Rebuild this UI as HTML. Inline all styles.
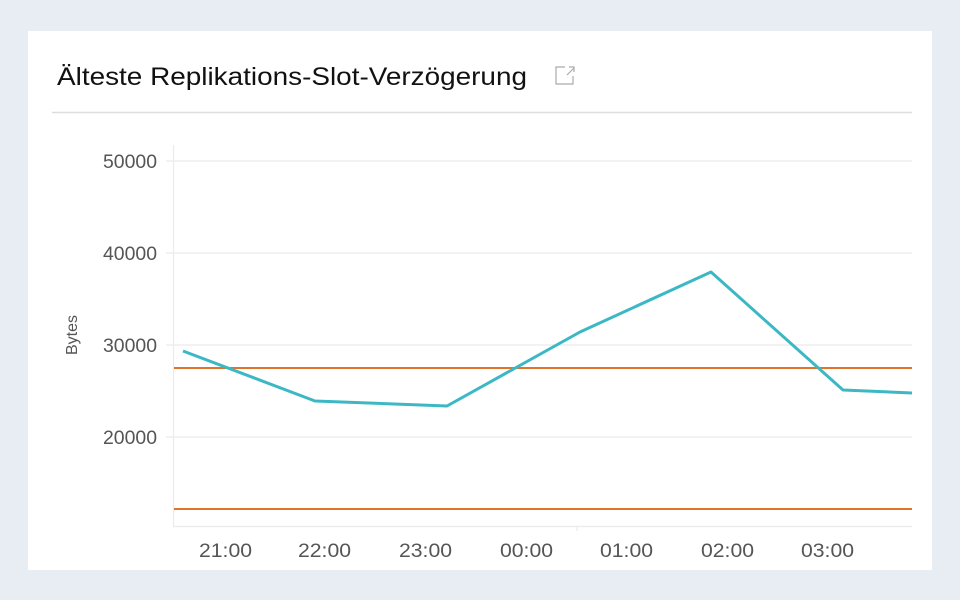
<!DOCTYPE html>
<html><head><meta charset="utf-8"><style>
html,body{margin:0;padding:0;width:960px;height:600px;background:#e8ecf3;overflow:hidden;font-family:"Liberation Sans",Arial,sans-serif}
.card{position:absolute;left:28px;top:31px;width:904px;height:539px;background:#fff}
</style></head><body>
<div class="card"></div>
<svg width="960" height="600" style="position:absolute;left:0;top:0" font-family="Liberation Sans, Arial, sans-serif">
<text x="57" y="85" font-size="25" fill="#111" textLength="470" lengthAdjust="spacingAndGlyphs">Älteste Replikations-Slot-Verzögerung</text>
<g stroke="#aaa" stroke-width="1.2" fill="none">
<path d="M565 67 H556 V84 H573 V76"/><path d="M567 75 L574 68 M569 67 H574 V72"/>
</g>
<line x1="52" y1="112.5" x2="912" y2="112.5" stroke="#ddd" stroke-width="1.5"/>
<g stroke="#ebebeb" stroke-width="1.2">
<line x1="173" y1="161" x2="912" y2="161"/>
<line x1="173" y1="253" x2="912" y2="253"/>
<line x1="173" y1="345" x2="912" y2="345"/>
<line x1="173" y1="437" x2="912" y2="437"/>
<line x1="173" y1="526.5" x2="912" y2="526.5"/>
<line x1="173.5" y1="145" x2="173.5" y2="527"/>
<line x1="166" y1="161" x2="173" y2="161"/><line x1="166" y1="253" x2="173" y2="253"/>
<line x1="166" y1="345" x2="173" y2="345"/><line x1="166" y1="437" x2="173" y2="437"/>
<line x1="577" y1="527" x2="577" y2="531"/>
</g>
<g font-size="19" fill="#555">
<text x="103" y="168" textLength="54" lengthAdjust="spacingAndGlyphs">50000</text>
<text x="103" y="260" textLength="54" lengthAdjust="spacingAndGlyphs">40000</text>
<text x="103" y="352" textLength="54" lengthAdjust="spacingAndGlyphs">30000</text>
<text x="103" y="444" textLength="54" lengthAdjust="spacingAndGlyphs">20000</text>
</g>
<text transform="translate(77,335) rotate(-90)" font-size="16" fill="#555" text-anchor="middle">Bytes</text>
<g font-size="19" fill="#555">
<text x="199" y="557" textLength="53" lengthAdjust="spacingAndGlyphs">21:00</text>
<text x="298" y="557" textLength="53" lengthAdjust="spacingAndGlyphs">22:00</text>
<text x="399" y="557" textLength="53" lengthAdjust="spacingAndGlyphs">23:00</text>
<text x="500" y="557" textLength="53" lengthAdjust="spacingAndGlyphs">00:00</text>
<text x="600" y="557" textLength="53" lengthAdjust="spacingAndGlyphs">01:00</text>
<text x="701" y="557" textLength="53" lengthAdjust="spacingAndGlyphs">02:00</text>
<text x="801" y="557" textLength="53" lengthAdjust="spacingAndGlyphs">03:00</text>
</g>
<line x1="174" y1="368" x2="912" y2="368" stroke="#e0742a" stroke-width="2"/>
<line x1="174" y1="509" x2="912" y2="509" stroke="#e0742a" stroke-width="2"/>
<polyline points="183,351 315,401 447,406 580,332 711,272 843,390 912,393" fill="none" stroke="#3cb8c4" stroke-width="3" stroke-linejoin="round"/>
</svg>
</body></html>
